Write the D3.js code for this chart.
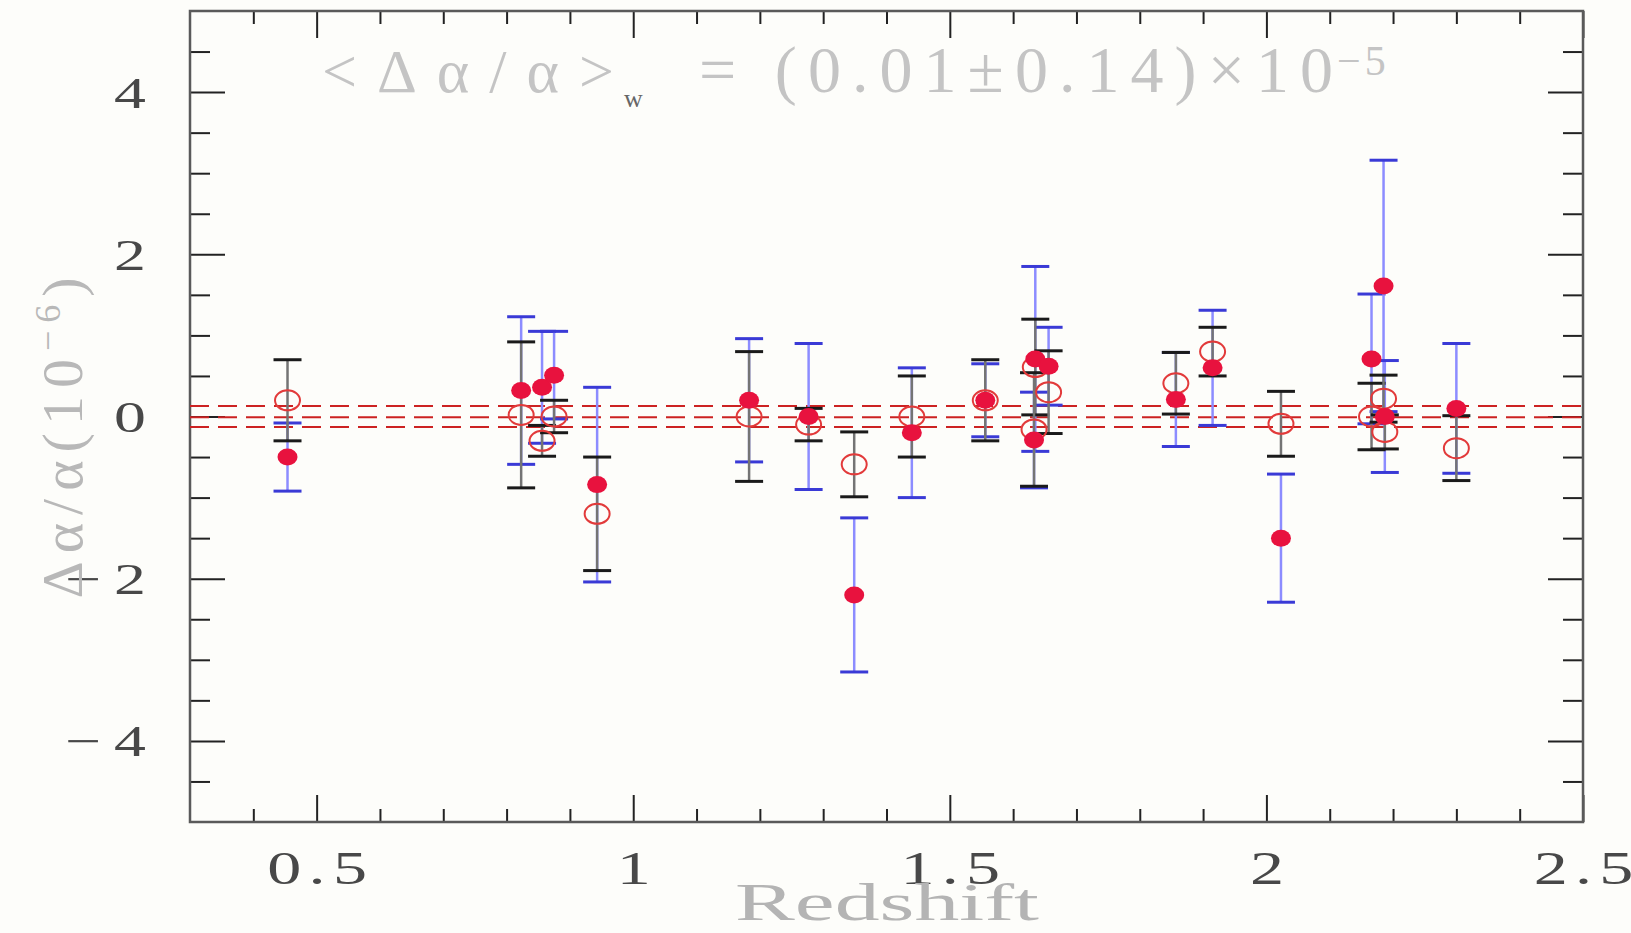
<!DOCTYPE html>
<html>
<head>
<meta charset="utf-8">
<title>Delta alpha / alpha vs redshift</title>
<script src="https://cdn.jsdelivr.net/npm/d3@7/dist/d3.min.js"></script>
<style>
	body { margin: 0; background: #fdfdfa; }
	svg { display: block; }
	text { font-family: "Liberation Serif", "DejaVu Serif", serif; font-weight: normal; }
</style>
</head>
<body>
<div id="chart-area"></div>
<script>
// Absorber redshifts
let redshift = [0.454, 0.823, 0.856, 0.875, 0.943, 1.183, 1.277, 1.349, 1.440, 1.556,
	1.635, 1.633, 1.656, 1.857, 1.915, 2.023, 2.166, 2.185, 2.187, 2.300];

// Filled circles (blue error bars)
let filledVal = [-0.50, 0.32, 0.36, 0.51, -0.84, 0.20, 0.00, -2.20, -0.20, 0.20,
	0.71, -0.29, 0.62, 0.21, 0.60, -1.50, 0.71, 1.61, 0.00, 0.10];
let filledErr = [0.42, 0.91, 0.69, 0.54, 1.20, 0.76, 0.90, 0.95, 0.80, 0.45,
	1.14, 0.59, 0.48, 0.58, 0.71, 0.79, 0.80, 1.55, 0.69, 0.80];

// Open circles (black error bars)
let openVal = [0.20, 0.02, -0.30, 0.00, -1.20, 0.00, -0.10, -0.59, 0.00, 0.20,
	0.61, -0.16, 0.30, 0.41, 0.80, -0.09, 0.00, 0.22, -0.19, -0.39];
let openErr = [0.50, 0.90, 0.19, 0.20, 0.70, 0.80, 0.20, 0.40, 0.50, 0.50,
	0.59, 0.70, 0.51, 0.38, 0.30, 0.40, 0.41, 0.29, 0.21, 0.40];

// Weighted mean and its 1 sigma band
let meanLines = [0.13, -0.01, -0.13];

// Tick values
let xMajorTicks = [0.5, 1, 1.5, 2, 2.5];
let xMinorTicks = [0.4, 0.6, 0.7, 0.8, 0.9, 1.1, 1.2, 1.3, 1.4, 1.6, 1.7, 1.8, 1.9, 2.1, 2.2, 2.3, 2.4];
let yMajorTicks = [-4, -2, 0, 2, 4];
let yMinorTicks = [-4.5, -3.5, -3, -2.5, -1.5, -1, -0.5, 0.5, 1, 1.5, 2.5, 3, 3.5, 4.5];

// SVG Size
let width_raw = 1631,
	height_raw = 933;

let margin = {top: 11, right: 48, bottom: 111, left: 190};

let width = width_raw - margin.left - margin.right,
	height = height_raw - margin.top - margin.bottom;

let data = redshift.map((z, i) => ({
	z: z,
	fv: filledVal[i], fe: filledErr[i],
	ov: openVal[i], oe: openErr[i]
}));

let root = d3.select("#chart-area")
	.append("svg")
	.attr("width", width_raw)
	.attr("height", height_raw);

let svg = root.append("g")
	.attr("transform", "translate(" + margin.left + "," + margin.top + ")");

// Scales
let x = d3.scaleLinear().domain([0.3, 2.5]).range([0, width]);
let y = d3.scaleLinear().domain([-5, 5]).range([height, 0]);

// Axes: ticks point inward on all four sides
function drawAxis(axisFn, scale, major, minor, majorLen, minorLen, transform, labels) {
	let gMin = svg.append("g").attr("class", "axis")
		.attr("transform", transform)
		.call(axisFn(scale).tickValues(minor).tickSize(-minorLen).tickFormat(""));
	let gMaj = svg.append("g").attr("class", "axis")
		.attr("transform", transform)
		.call(axisFn(scale).tickValues(major).tickSize(-majorLen)
			.tickFormat(labels ? labels : ""));
	[gMin, gMaj].forEach(g => {
		g.select(".domain").remove();
		g.selectAll(".tick line").attr("stroke", "#222").attr("stroke-width", 2);
	});
	return gMaj;
}

let fmtX = d3.format("~g");
let fmtY = d => d < 0 ? "\u2212\u2009" + Math.abs(d) : String(d);

let gBottom = drawAxis(d3.axisBottom, x, xMajorTicks, xMinorTicks, 27, 13, "translate(0," + height + ")", fmtX);
drawAxis(d3.axisTop, x, xMajorTicks, xMinorTicks, 27, 13, "translate(0,0)", null);
let gLeft = drawAxis(d3.axisLeft, y, yMajorTicks, yMinorTicks, 35, 20, "translate(0,0)", fmtY);
drawAxis(d3.axisRight, y, yMajorTicks, yMinorTicks, 35, 20, "translate(" + width + ",0)", null);

// Tick label styling (wide, spaced serif digits)
gBottom.selectAll(".tick text")
	.attr("y", 62)
	.attr("dy", null)
	.attr("dx", 2.5)
	.attr("letter-spacing", 5)
	.attr("transform", "scale(1.45,1)")
	.attr("font-size", 47)
	.attr("fill", "#484848");

gLeft.selectAll(".tick text")
	.attr("x", -44 / 1.45)
	.attr("dy", "0.34em")
	.attr("transform", "scale(1.45,1)")
	.attr("font-size", 44)
	.attr("fill", "#484848");

// Frame
svg.append("rect")
	.attr("x", 0).attr("y", 0)
	.attr("width", width).attr("height", height)
	.attr("fill", "none")
	.attr("stroke", "#5a5a5a")
	.attr("stroke-width", 2.5);

// Dashed mean lines
svg.selectAll(".mean")
	.data(meanLines)
	.enter()
	.append("line")
	.attr("class", "mean")
	.attr("x1", 0).attr("x2", width)
	.attr("y1", d => y(d)).attr("y2", d => y(d))
	.attr("stroke", "#cc2222")
	.attr("stroke-width", 2)
	.attr("stroke-dasharray", "19,9");

// Error bars
function errorBars(valKey, errKey, lineColor, capColor) {
	let g = svg.append("g");
	let bars = g.selectAll("g")
		.data(data)
		.enter()
		.append("g");
	bars.append("line")
		.attr("x1", d => x(d.z)).attr("x2", d => x(d.z))
		.attr("y1", d => y(d[valKey] - d[errKey]))
		.attr("y2", d => y(d[valKey] + d[errKey]))
		.attr("stroke", lineColor)
		.attr("stroke-width", 2.5);
	[-1, 1].forEach(s => {
		bars.append("line")
			.attr("x1", d => x(d.z) - 14).attr("x2", d => x(d.z) + 14)
			.attr("y1", d => y(d[valKey] + s * d[errKey]))
			.attr("y2", d => y(d[valKey] + s * d[errKey]))
			.attr("stroke", capColor)
			.attr("stroke-width", 3);
	});
}

errorBars("fv", "fe", "#8c8cff", "#3a3ad6");
errorBars("ov", "oe", "#747474", "#1a1a1a");

// Open circles
svg.selectAll(".open")
	.data(data)
	.enter()
	.append("ellipse")
	.attr("class", "open")
	.attr("cx", d => x(d.z))
	.attr("cy", d => y(d.ov))
	.attr("rx", 12.5)
	.attr("ry", 10)
	.attr("fill", "none")
	.attr("stroke", "#e23a3a")
	.attr("stroke-width", 2);

// Filled circles
svg.selectAll(".filled")
	.data(data)
	.enter()
	.append("ellipse")
	.attr("class", "filled")
	.attr("cx", d => x(d.z))
	.attr("cy", d => y(d.fv))
	.attr("rx", 10)
	.attr("ry", 8.5)
	.attr("fill", "#e8123e");

// Title: <Δα/α>_w = (0.01±0.14)×10^-5
root.append("text")
	.attr("x", 322).attr("y", 92)
	.attr("font-size", 62)
	.attr("fill", "#c4c4c4")
	.attr("textLength", 292)
	.attr("lengthAdjust", "spacing")
	.text("<Δα/α>");

root.append("text")
	.attr("x", 624).attr("y", 107)
	.attr("font-size", 26)
	.attr("font-weight", "bold")
	.attr("fill", "#666")
	.text("w");

root.append("text")
	.attr("x", 699).attr("y", 92)
	.attr("font-size", 66)
	.attr("fill", "#c4c4c4")
	.attr("textLength", 634)
	.attr("lengthAdjust", "spacing")
	.text("= (0.01±0.14)×10");

root.append("text")
	.attr("x", 1337).attr("y", 75)
	.attr("font-size", 42)
	.attr("fill", "#c4c4c4")
	.attr("letter-spacing", 4)
	.text("\u22125");

// Y label
let yLabel = root.append("text")
	.attr("transform", "translate(82,434)rotate(-90)")
	.attr("text-anchor", "middle")
	.attr("font-size", 58)
	.attr("letter-spacing", 8)
	.attr("fill", "#b8b8b8");
yLabel.append("tspan").text("Δα/α(10");
yLabel.append("tspan").attr("dy", -22).attr("font-size", 36).text("\u22126");
yLabel.append("tspan").attr("dy", 22).text(")");

// X label
root.append("text")
	.attr("x", 735).attr("y", 920)
	.attr("font-size", 53)
	.attr("fill", "#b4b4b4")
	.attr("textLength", 304)
	.attr("lengthAdjust", "spacingAndGlyphs")
	.text("Redshift");
</script>
</body>
</html>
